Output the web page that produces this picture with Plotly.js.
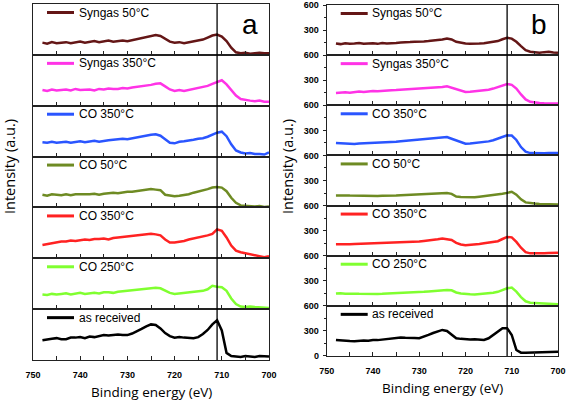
<!DOCTYPE html>
<html><head><meta charset="utf-8">
<script src="https://cdn.plot.ly/plotly-3.0.1.min.js"></script>
<style>html,body{margin:0;padding:0;background:#fff}#chart{width:567px;height:401px}</style>
</head><body><div id="chart"></div>
<script>
// Binding energy (eV), 748 -> 700
const energy = [748,747,746,745,744,743,742,741,740,739,
                738,737,736,735,734,733,732,731,730,729,
                728,727,726,725,724,723,722,721,720,719,
                718,717,716,715,714,713,712,711,710,709,
                708,707,706,705,704,703,702,701,700];

const labels = ['Syngas 50°C','Syngas 350°C','CO 350°C','CO 50°C','CO 350°C','CO 250°C','as received'];
const colors = ['#641616','#ff33e6','#2a55ff','#6e8b23','#ff2222','#80ff30','#000000'];
const panelLetters = ['a','b'];
const xTickVals = [750,740,730,720,710,700];
const yTickValsB = [0,300,600];
const refEnergy = 711;

// Panel a (arbitrary intensity units, no scale)
const a_syngas50  = [24,22,25,23,24,25,23,25,26,24, 25,27,25,26,28,26,27,28,27,29, 31,32,35,37,39,37,31,26,24,25, 23,25,26,28,30,34,38,40,36,27, 14,5,3,4,2,3,4,3,3];
const a_syngas350 = [31,29,32,30,31,32,30,33,31,32, 32,30,33,32,34,33,33,35,34,36, 37,38,40,41,43,44,38,32,29,31, 29,31,33,35,37,39,43,47,50,42, 31,20,13,11,10,9,10,8,8];
const a_co350b    = [28,27,29,27,28,29,27,29,30,28, 30,31,29,31,32,33,34,35,34,36, 37,39,41,43,44,41,34,27,26,29, 30,31,33,35,36,39,43,47,49,40, 24,12,8,6,7,5,5,4,8];
const a_co50      = [25,23,26,25,24,26,24,26,26,25, 26,27,25,27,28,29,28,30,31,31, 32,33,34,36,35,34,25,23,22,23, 24,26,29,31,33,36,39,40,39,32, 19,9,4,3,2,2,3,1,2];
const a_co350r    = [26,28,29,31,33,33,35,34,35,37, 36,38,38,39,37,40,41,42,42,43, 44,45,46,48,47,45,37,31,31,32, 34,37,39,40,42,45,48,57,54,41, 25,15,12,10,7,5,3,2,4];
const a_co250     = [29,28,30,29,30,31,29,31,32,30, 31,32,31,33,33,32,34,35,35,36, 37,39,40,41,42,41,36,32,30,31, 31,32,33,34,36,39,46,44,43,36, 21,10,5,4,5,4,3,3,2];
const a_received  = [39,41,42,43,41,41,44,44,45,43, 46,45,47,49,48,49,50,49,49,52, 56,61,66,70,69,62,53,47,44,45, 44,43,43,45,51,59,70,78,58,14, 8,7,6,8,7,6,8,7,7];

// Panel b (a.u., 0-600 per strip)
const b_syngas50  = [140,132,142,136,140,146,136,142,141,135, 144,139,147,146,151,150,156,160,157,163, 168,172,180,188,200,188,160,146,140,135, 132,138,142,148,156,168,190,208,198,160, 108,60,40,35,30,36,40,33,28];
const b_syngas350 = [148,152,155,150,160,166,160,168,172,169, 175,178,181,182,186,190,192,196,198,200, 201,205,212,218,228,210,188,170,160,162, 168,172,180,186,200,218,240,255,245,200, 130,70,42,32,28,25,24,22,20];
const b_co350b    = [148,144,142,141,138,143,145,150,147,151, 155,158,160,165,170,175,180,185,190,200, 198,205,212,218,220,200,180,155,140,142, 148,155,162,168,182,200,225,240,238,185, 100,45,28,26,29,27,30,25,28];
const b_co50      = [120,117,122,120,118,121,116,114,112,116, 118,117,121,122,125,128,132,134,136,140, 140,142,148,152,150,140,108,104,100,98, 100,106,112,120,126,132,142,152,165,130, 75,38,28,24,20,19,16,14,12];
const b_co350r    = [138,136,141,138,140,142,139,144,146,144, 148,150,152,154,156,158,162,166,170,176, 180,186,196,205,200,188,154,135,126,128, 134,140,148,154,162,174,200,225,220,165, 95,42,28,26,28,30,32,34,35];
const b_co250     = [148,151,145,148,146,144,142,145,140,143, 144,146,148,148,150,152,155,160,164,168, 172,176,182,188,190,186,160,148,140,138, 136,140,144,148,156,168,190,210,218,170, 105,55,38,36,36,34,30,26,20];
const b_received  = [192,186,188,180,178,184,186,184,192,190, 196,200,210,220,222,218,220,215,212,228, 252,275,292,312,300,252,212,205,200,198, 200,196,192,212,252,292,332,332,252,72, 40,38,40,45,48,44,48,50,52];

const panelSeries = [
  [a_syngas50, a_syngas350, a_co350b, a_co50, a_co350r, a_co250, a_received],
  [b_syngas50, b_syngas350, b_co350b, b_co50, b_co350r, b_co250, b_received]
];

// ---- layout geometry (pixels) ----
const W = 567, H = 401;
const panels = [
  {x0: 33, x1: 269, top: 4, bottom: 360, yr: [0,100], ticks: false, titleX: 10, xTitleY: 392},
  {x0: 326.7, x1: 558, top: 5, bottom: 356, yr: [0,600], ticks: true, titleX: 288, xTitleY: 388}
];
const N = 7;
const fontMain = 'Liberation Sans, Arial, sans-serif';
const fontTitle = 'Open Sans, Liberation Sans, sans-serif';
const bold = v => '<b>' + v + '</b>';

const traces = [];
const layout = {
  width: W, height: H, margin: {l:0, r:0, t:0, b:0},
  paper_bgcolor: '#fff', plot_bgcolor: '#fff', showlegend: false,
  shapes: [], annotations: []
};
const px = v => v / W, py = v => 1 - v / H;

panels.forEach((P, p) => {
  const h = (P.bottom - P.top) / N;
  for (let i = 0; i < N; i++) {
    const n = p * N + i + 1;
    const xs = n === 1 ? '' : String(n);
    const top = P.top + i * h, bot = P.top + (i + 1) * h;
    traces.push({
      type: 'scatter', mode: 'lines', x: energy, y: panelSeries[p][i],
      xaxis: 'x' + xs, yaxis: 'y' + xs, name: labels[i],
      line: {color: colors[i], width: 2.5}, hoverinfo: 'skip'
    });
    const isBottom = i === N - 1;
    layout['xaxis' + xs] = {
      domain: [px(P.x0), px(P.x1)], anchor: 'y' + xs, range: [750, 700],
      showline: true, mirror: true, linecolor: '#222', linewidth: 1,
      showgrid: false, zeroline: false,
      tickmode: 'array', tickvals: xTickVals, ticktext: xTickVals.map(bold),
      ticks: 'inside', ticklen: 4, tickcolor: '#222', tickwidth: 1,
      minor: {dtick: 5, tick0: 700, ticks: 'inside', ticklen: 4, tickcolor: '#222'},
      showticklabels: isBottom, ticklabelstandoff: 6, ticklabeloverflow: 'allow',
      tickfont: {family: fontMain, size: 9, color: '#000'}
    };
    const ya = {
      domain: [py(bot), py(top)], anchor: 'x' + xs, range: P.yr,
      showline: true, mirror: true, linecolor: '#222', linewidth: 1,
      showgrid: false, zeroline: false, fixedrange: true
    };
    if (P.ticks) {
      Object.assign(ya, {
        tickmode: 'array', tickvals: yTickValsB,
        ticktext: yTickValsB.map(v => (v === 0 && !isBottom) ? '' : bold(v)),
        ticks: 'outside', ticklen: 3, tickcolor: '#222',
        minor: {dtick: 150, tick0: 0, ticks: 'outside', ticklen: 2, tickcolor: '#222'},
        showticklabels: true, ticklabelstandoff: 2, ticklabeloverflow: 'allow',
        tickfont: {family: fontMain, size: 9, color: '#000'}
      });
    } else {
      Object.assign(ya, {ticks: '', showticklabels: false});
    }
    layout['yaxis' + xs] = ya;

    // legend-style label inside each strip
    const ly = top + 8.5;
    layout.shapes.push({type: 'line', xref: 'paper', yref: 'paper',
      x0: px(P.x0 + 14), x1: px(P.x0 + 41), y0: py(ly), y1: py(ly),
      line: {color: colors[i], width: 3}});
    layout.annotations.push({xref: 'paper', yref: 'paper', x: px(P.x0 + 43.5), y: py(ly),
      xanchor: 'left', yanchor: 'middle', showarrow: false, text: labels[i],
      font: {family: fontMain, size: 12, color: '#000'}});
  }
  const lastX = 'x' + (p * N + N);
  // vertical reference line at 711 eV spanning the whole panel
  layout.shapes.push({type: 'line', xref: lastX, yref: 'paper',
    x0: refEnergy, x1: refEnergy, y0: py(P.bottom), y1: py(P.top),
    line: {color: '#000', width: 1.3}});
  // panel letter
  layout.annotations.push({xref: 'paper', yref: 'paper', x: px(P.x1 - 19), y: py(24),
    xanchor: 'center', yanchor: 'middle', showarrow: false, text: panelLetters[p],
    font: {family: fontMain, size: 28, color: '#000'}});
  // axis titles
  layout.annotations.push({xref: 'paper', yref: 'paper', x: px((P.x0 + P.x1) / 2), y: py(P.xTitleY),
    xanchor: 'center', yanchor: 'middle', showarrow: false, text: 'Binding energy (eV)',
    font: {family: fontTitle, size: 13.5, color: '#000'}});
  layout.annotations.push({xref: 'paper', yref: 'paper', x: px(P.titleX), y: py(167),
    xanchor: 'center', yanchor: 'middle', showarrow: false, textangle: -90, text: 'Intensity (a.u.)',
    font: {family: fontTitle, size: 14.5, color: '#000'}});
});

Plotly.newPlot('chart', traces, layout, {staticPlot: true, displayModeBar: false});
</script>
</body></html>
